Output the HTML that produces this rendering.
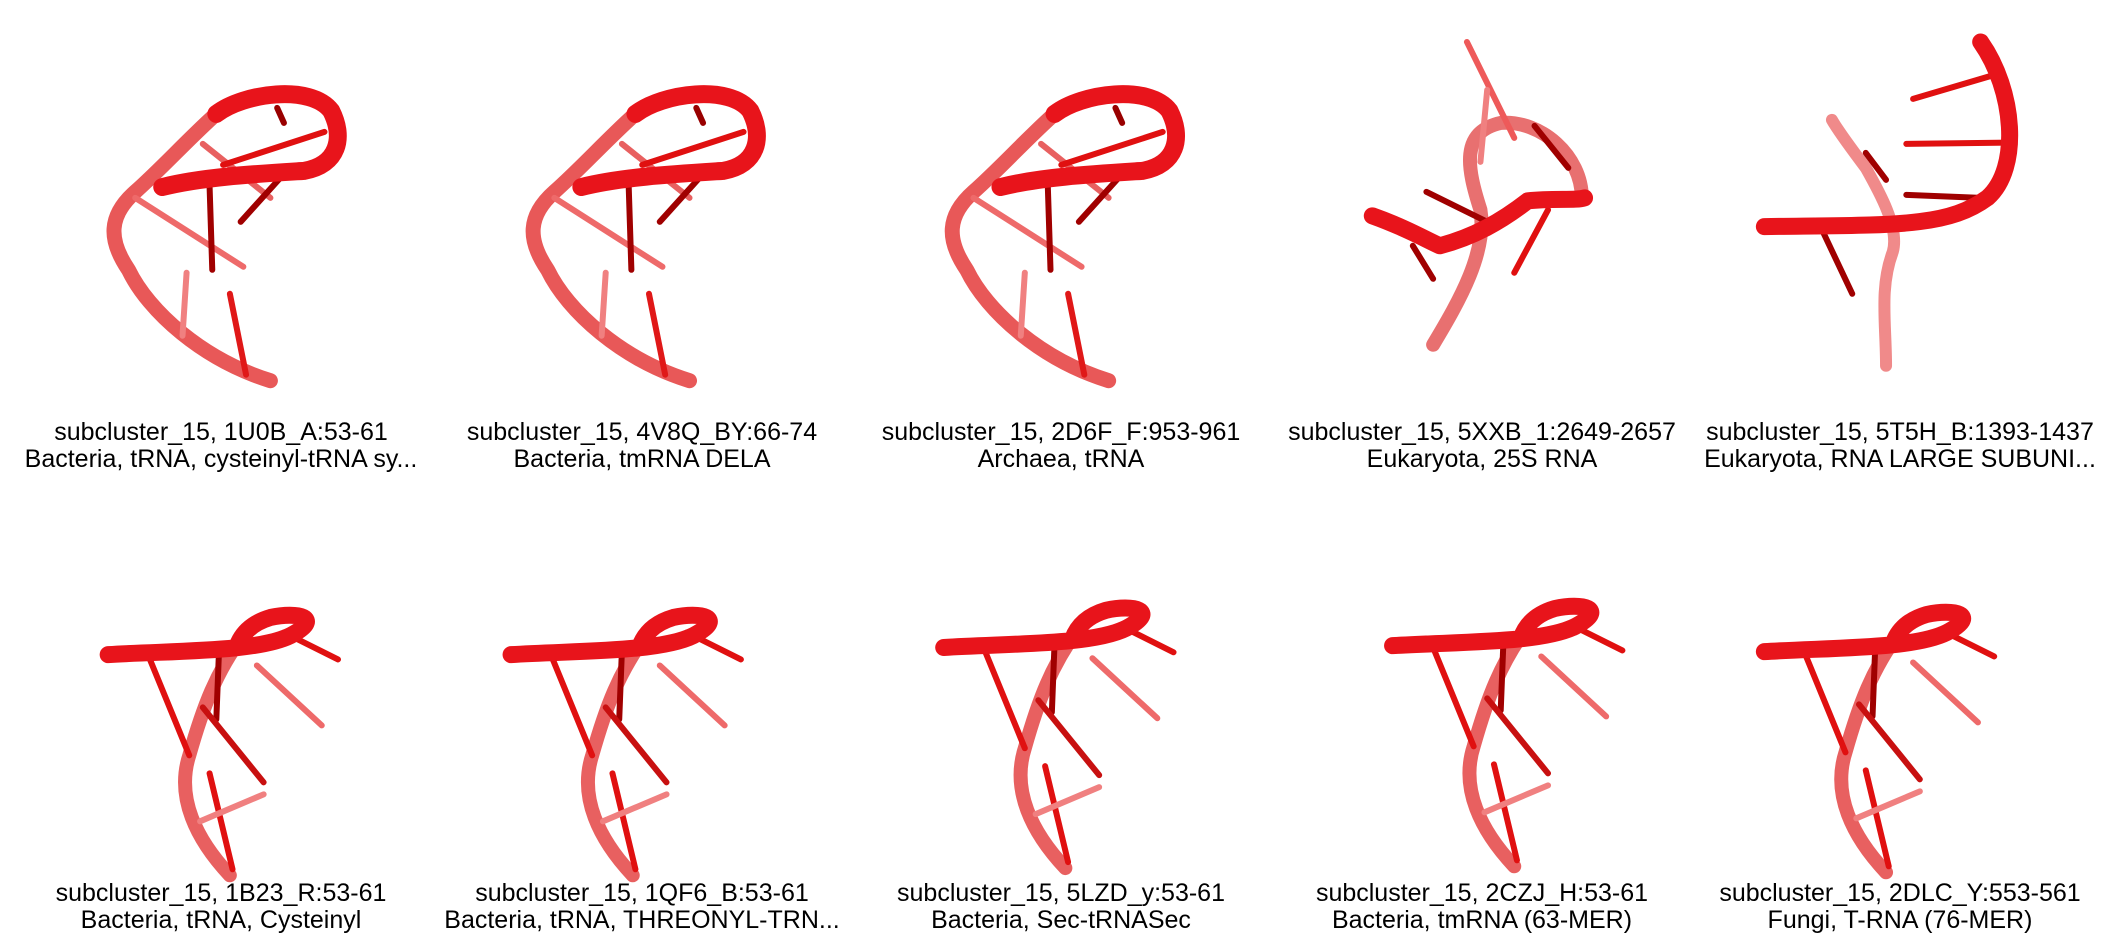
<!DOCTYPE html>
<html><head><meta charset="utf-8"><style>
html,body{margin:0;padding:0;background:#fff;}
#wrap{position:relative;width:2120px;height:940px;overflow:hidden;font-family:"Liberation Sans",Arial,sans-serif;}
svg{position:absolute;left:0;top:0;}
.lbl{position:absolute;width:420px;text-align:center;font-size:25px;line-height:27px;color:#000;white-space:nowrap;}
path,line{fill:none;stroke-linecap:round;stroke-linejoin:round;}
</style></head><body>
<div id="wrap">
<svg width="2120" height="940" viewBox="0 0 2120 940">
<defs>
<g id="trnaA">
  <path d="M200,635 C150,600 110,520 95,450 C80,400 80,360 100,320 C120,280 140,230 160,190" stroke="#e85858" stroke-width="15" vector-effect="non-scaling-stroke"/>
  <line x1="100" y1="330" x2="180" y2="445" stroke="#ee6a6a" stroke-width="6" vector-effect="non-scaling-stroke"/>
  <line x1="150" y1="240" x2="200" y2="330" stroke="#e86060" stroke-width="6" vector-effect="non-scaling-stroke"/>
  <line x1="138" y1="455" x2="135" y2="560" stroke="#f08080" stroke-width="6" vector-effect="non-scaling-stroke"/>
  <line x1="170" y1="490" x2="182" y2="625" stroke="#e01818" stroke-width="6" vector-effect="non-scaling-stroke"/>
  <line x1="155" y1="310" x2="157" y2="450" stroke="#a00000" stroke-width="6" vector-effect="non-scaling-stroke"/>
  <line x1="210" y1="290" x2="178" y2="370" stroke="#a00000" stroke-width="6" vector-effect="non-scaling-stroke"/>
  <line x1="165" y1="275" x2="240" y2="220" stroke="#e01010" stroke-width="6" vector-effect="non-scaling-stroke"/>
  <line x1="205" y1="180" x2="210" y2="205" stroke="#900" stroke-width="6" vector-effect="non-scaling-stroke"/>
  <path d="M160,190 C180,155 230,140 245,185 C255,230 250,275 225,285 C190,290 150,295 120,312" stroke="#e8141b" stroke-width="18" vector-effect="non-scaling-stroke"/>
</g>
<g id="trnaB">
  <path d="M170,1460 C145,1400 130,1330 140,1260 C150,1180 160,1120 180,1060" stroke="#e86060" stroke-width="14" vector-effect="non-scaling-stroke"/>
  <line x1="110" y1="1095" x2="140" y2="1260" stroke="#e01010" stroke-width="6" vector-effect="non-scaling-stroke"/>
  <line x1="162" y1="1085" x2="160" y2="1200" stroke="#a00000" stroke-width="6" vector-effect="non-scaling-stroke"/>
  <line x1="190" y1="1110" x2="238" y2="1210" stroke="#ee6a6a" stroke-width="6" vector-effect="non-scaling-stroke"/>
  <line x1="150" y1="1180" x2="195" y2="1305" stroke="#c81010" stroke-width="6" vector-effect="non-scaling-stroke"/>
  <line x1="155" y1="1290" x2="172" y2="1450" stroke="#e01010" stroke-width="6" vector-effect="non-scaling-stroke"/>
  <line x1="148" y1="1370" x2="195" y2="1325" stroke="#f08080" stroke-width="6" vector-effect="non-scaling-stroke"/>
  <line x1="210" y1="1055" x2="250" y2="1100" stroke="#e01010" stroke-width="6" vector-effect="non-scaling-stroke"/>
  <path d="M80,1092 C130,1085 190,1088 215,1060 C240,1030 220,1020 200,1030 C185,1040 178,1060 175,1080" stroke="#e8141b" stroke-width="17" vector-effect="non-scaling-stroke"/>
</g>
</defs>
<g transform="scale(1.352,0.5995)">
  <use href="#trnaA"/>
  <use href="#trnaA" transform="translate(310,0)"/>
  <use href="#trnaA" transform="translate(620,0)"/>
  <g>
    <path d="M1060,575 C1080,500 1100,420 1095,350 C1085,280 1080,220 1110,205 C1140,200 1170,260 1170,330" stroke="#e87070" stroke-width="14" vector-effect="non-scaling-stroke"/>
    <line x1="1085" y1="70" x2="1120" y2="230" stroke="#ee5a5a" stroke-width="6" vector-effect="non-scaling-stroke"/>
    <line x1="1100" y1="150" x2="1095" y2="270" stroke="#f08080" stroke-width="6" vector-effect="non-scaling-stroke"/>
    <line x1="1055" y1="320" x2="1100" y2="370" stroke="#a00000" stroke-width="6" vector-effect="non-scaling-stroke"/>
    <line x1="1045" y1="410" x2="1060" y2="465" stroke="#a00000" stroke-width="6" vector-effect="non-scaling-stroke"/>
    <line x1="1145" y1="350" x2="1120" y2="455" stroke="#e01010" stroke-width="6" vector-effect="non-scaling-stroke"/>
    <line x1="1135" y1="210" x2="1160" y2="280" stroke="#a00000" stroke-width="6" vector-effect="non-scaling-stroke"/>
    <path d="M1015,360 C1040,380 1055,400 1065,410 C1090,395 1110,370 1130,335 C1150,330 1165,335 1172,330" stroke="#e8141b" stroke-width="17" vector-effect="non-scaling-stroke"/>
  </g>
  <g>
    <path d="M1395,610 C1395,540 1390,480 1400,420 C1405,380 1390,320 1380,280 C1370,250 1360,220 1355,200" stroke="#f08a8a" stroke-width="12" vector-effect="non-scaling-stroke"/>
    <line x1="1415" y1="165" x2="1475" y2="125" stroke="#e01010" stroke-width="6" vector-effect="non-scaling-stroke"/>
    <line x1="1410" y1="240" x2="1485" y2="238" stroke="#e01010" stroke-width="6" vector-effect="non-scaling-stroke"/>
    <line x1="1410" y1="325" x2="1465" y2="330" stroke="#a00000" stroke-width="6" vector-effect="non-scaling-stroke"/>
    <line x1="1348" y1="385" x2="1370" y2="490" stroke="#a00000" stroke-width="6" vector-effect="non-scaling-stroke"/>
    <line x1="1380" y1="255" x2="1395" y2="300" stroke="#a00000" stroke-width="6" vector-effect="non-scaling-stroke"/>
    <path d="M1465,70 C1490,150 1495,280 1470,330 C1440,380 1400,375 1305,378" stroke="#e8141b" stroke-width="17" vector-effect="non-scaling-stroke"/>
  </g>
  <use href="#trnaB"/>
  <use href="#trnaB" transform="translate(298,0)"/>
  <use href="#trnaB" transform="translate(618,-12)"/>
  <use href="#trnaB" transform="translate(950,-15)"/>
  <use href="#trnaB" transform="translate(1225,-5)"/>
</g>
</svg>
<div class="lbl" style="left:11px;top:419px">subcluster_15, 1U0B_A:53-61<br>Bacteria, tRNA, cysteinyl-tRNA sy...</div>
<div class="lbl" style="left:432px;top:419px">subcluster_15, 4V8Q_BY:66-74<br>Bacteria, tmRNA DELA</div>
<div class="lbl" style="left:851px;top:419px">subcluster_15, 2D6F_F:953-961<br>Archaea, tRNA</div>
<div class="lbl" style="left:1272px;top:419px">subcluster_15, 5XXB_1:2649-2657<br>Eukaryota, 25S RNA</div>
<div class="lbl" style="left:1690px;top:419px">subcluster_15, 5T5H_B:1393-1437<br>Eukaryota, RNA LARGE SUBUNI...</div>
<div class="lbl" style="left:11px;top:880px">subcluster_15, 1B23_R:53-61<br>Bacteria, tRNA, Cysteinyl</div>
<div class="lbl" style="left:432px;top:880px">subcluster_15, 1QF6_B:53-61<br>Bacteria, tRNA, THREONYL-TRN...</div>
<div class="lbl" style="left:851px;top:880px">subcluster_15, 5LZD_y:53-61<br>Bacteria, Sec-tRNASec</div>
<div class="lbl" style="left:1272px;top:880px">subcluster_15, 2CZJ_H:53-61<br>Bacteria, tmRNA (63-MER)</div>
<div class="lbl" style="left:1690px;top:880px">subcluster_15, 2DLC_Y:553-561<br>Fungi, T-RNA (76-MER)</div>
</div>
</body></html>
